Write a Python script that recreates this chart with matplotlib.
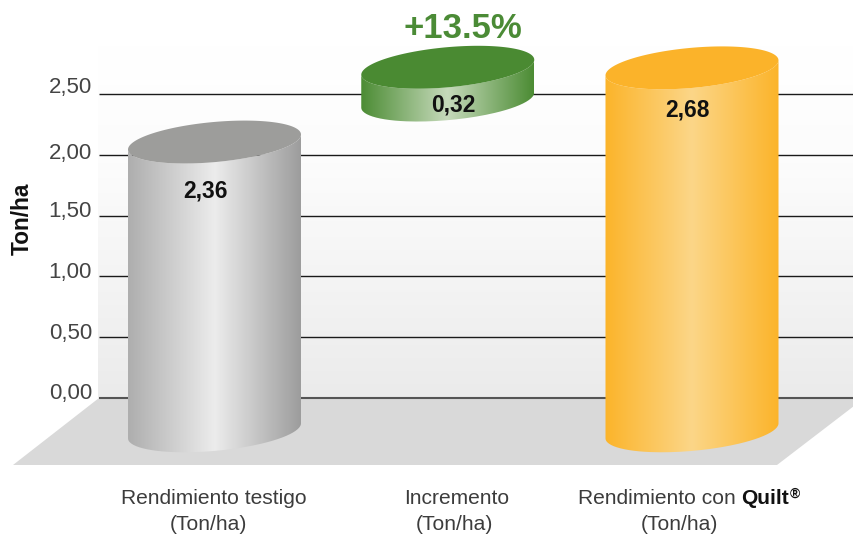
import numpy as np
import matplotlib
matplotlib.use("Agg")
import matplotlib.pyplot as plt
from matplotlib.path import Path
from matplotlib.patches import PathPatch, Polygon
from matplotlib.transforms import IdentityTransform
from matplotlib.colors import LinearSegmentedColormap

# ---- data ----
categories = ["Rendimiento testigo", "Incremento", "Rendimiento con"]
units = ["(Ton/ha)", "(Ton/ha)", "(Ton/ha)"]
value_labels = ["2,36", "0,32", "2,68"]
# drawn extent of each cylinder on the y axis (the artwork is not strictly to scale)
cylinder_x = [0.0, 0.977, 2.0]
cylinder_low = [-0.27, 2.45, -0.27]
cylinder_high = [2.105, 2.72, 2.715]
tick_values = [0.0, 0.5, 1.0, 1.5, 2.0, 2.5]
tick_labels = ["0,00", "0,50", "1,00", "1,50", "2,00", "2,50"]
increment_label = "+13.5%"
y_title = "Ton/ha"

# ---- styles ----
W, H = 854, 535
FONT = "Liberation Sans"
plt.rcParams["font.family"] = [FONT, "DejaVu Sans"]
side_colors = [("#aeaeae", "#ececec", "#9c9c9c"),
               ("#4c8c34", "#c6dabb", "#4c8c34"),
               ("#fbb42a", "#fcd688", "#fbb42a")]
top_colors = ["#9d9d9b", "#4a8a32", "#fbb32a"]

fig = plt.figure(figsize=(W / 100, H / 100), dpi=100, facecolor="white")
ax = fig.add_axes([0, 0, 1, 1])
PX_X, PX_Y = 238.75, 121.6
X0, Y0 = 214.5, 398
ax.set_xlim(-X0 / PX_X, (W - X0) / PX_X)
ax.set_ylim(-(H - Y0) / PX_Y, Y0 / PX_Y)
ax.axis("off")


def xd(px):
    return (px - X0) / PX_X


def yd(py):
    return (Y0 - py) / PX_Y


def put(px, py, s, **kw):
    kw.setdefault("family", [FONT, "DejaVu Sans"])
    return ax.text(px, H - py, s, transform=IdentityTransform(), **kw)


# wall background
wall = np.linspace(0, 1, 200)[:, None]
cm_wall = LinearSegmentedColormap.from_list("wall", ["#ffffff", "#fcfcfc", "#f4f4f4", "#ebebeb"])
ax.imshow(wall, extent=[xd(98), xd(W), yd(398), yd(46)], cmap=cm_wall, aspect="auto", zorder=1)

# floor
ax.add_patch(Polygon([(xd(99), yd(398)), (xd(W), yd(398)), (xd(W), yd(406)),
                      (xd(777), yd(465)), (xd(13), yd(465))],
                     closed=True, fc="#d9d9d9", ec="none", zorder=2))

# grid lines
for v in tick_values:
    ax.hlines(v, 99 / W, 1, transform=ax.get_yaxis_transform(),
              color="#555555" if v == 0 else "#1a1a1a",
              lw=1.5 if v == 0 else 1.0, zorder=3)

# y labels
label_shift = [4, 4, 4, 4, 1, 6]
for v, s, d in zip(tick_values, tick_labels, label_shift):
    put(92, Y0 - v * PX_Y - d, s, ha="right", va="center", fontsize=16, color="#444444")
put(22, 219, y_title, rotation=90, ha="center", va="center", fontsize=16.3,
    fontweight="bold", color="#111111")

# cylinders
half_w = 86.5 / PX_X
slant = (15 / 173) * (PX_X / PX_Y)
minor = 20.1 / PX_Y
for i, (xc, lo, hi) in enumerate(zip(cylinder_x, cylinder_low, cylinder_high)):
    t_low = np.linspace(np.pi, 2 * np.pi, 80)
    ex = np.cos(t_low) * half_w
    bottom_x = xc + ex
    bottom_y = lo + slant * ex + minor * np.sin(t_low)
    top_x = (xc + ex)[::-1]
    top_y = (hi + slant * ex + minor * np.sin(t_low))[::-1]
    body = np.column_stack([np.r_[bottom_x, top_x], np.r_[bottom_y, top_y]])
    patch = PathPatch(Path(np.vstack([body, body[0]])), fc="none", ec="none", zorder=4)
    ax.add_patch(patch)
    cm = LinearSegmentedColormap.from_list(f"c{i}", side_colors[i])
    im = ax.imshow(np.linspace(0, 1, 256)[None, :], extent=[xc - half_w, xc + half_w, lo - 0.4, hi + 0.4],
                   cmap=cm, aspect="auto", interpolation="bilinear", zorder=4)
    im.set_clip_path(patch)
    t = np.linspace(0, 2 * np.pi, 160)
    cx = np.cos(t) * half_w
    ax.fill(xc + cx, hi + slant * cx + minor * np.sin(t), color=top_colors[i], lw=0, zorder=5)

ax.set_xlim(-X0 / PX_X, (W - X0) / PX_X)
ax.set_ylim(-(H - Y0) / PX_Y, Y0 / PX_Y)

# value labels
value_offset = [(-8.5, -49), (5.5, -37.5), (-4, -42.5)]
for i, (s, off) in enumerate(zip(value_labels, value_offset)):
    ax.annotate(s, xy=(cylinder_x[i], cylinder_high[i]), xytext=off, textcoords="offset pixels",
                ha="center", va="center", fontsize=16.4, fontweight="bold",
                color="#111111", zorder=6)
put(462.5, 29, increment_label, ha="center", va="center", fontsize=25, fontweight="bold",
    color="#4b8b36", zorder=6)

# category labels
col = "#3c3c3c"
FS = 15.15
put(214, 499, categories[0], ha="center", va="center", fontsize=FS, color=col)
put(208, 525, units[0], ha="center", va="center", fontsize=FS, color=col)
put(457, 499, categories[1], ha="center", va="center", fontsize=FS, color=col)
put(454, 525, units[1], ha="center", va="center", fontsize=FS, color=col)
put(736, 503.5, categories[2], ha="right", va="baseline", fontsize=FS, color=col)
put(741, 503.5, "Quilt", ha="left", va="baseline", fontsize=FS, fontweight="bold", color="#111111")
put(789.5, 498, "®", ha="left", va="baseline", fontsize=10, fontweight="bold", color="#111111")
put(679, 525, units[2], ha="center", va="center", fontsize=FS, color=col)

fig.savefig("out.png", dpi=100, facecolor="white")
